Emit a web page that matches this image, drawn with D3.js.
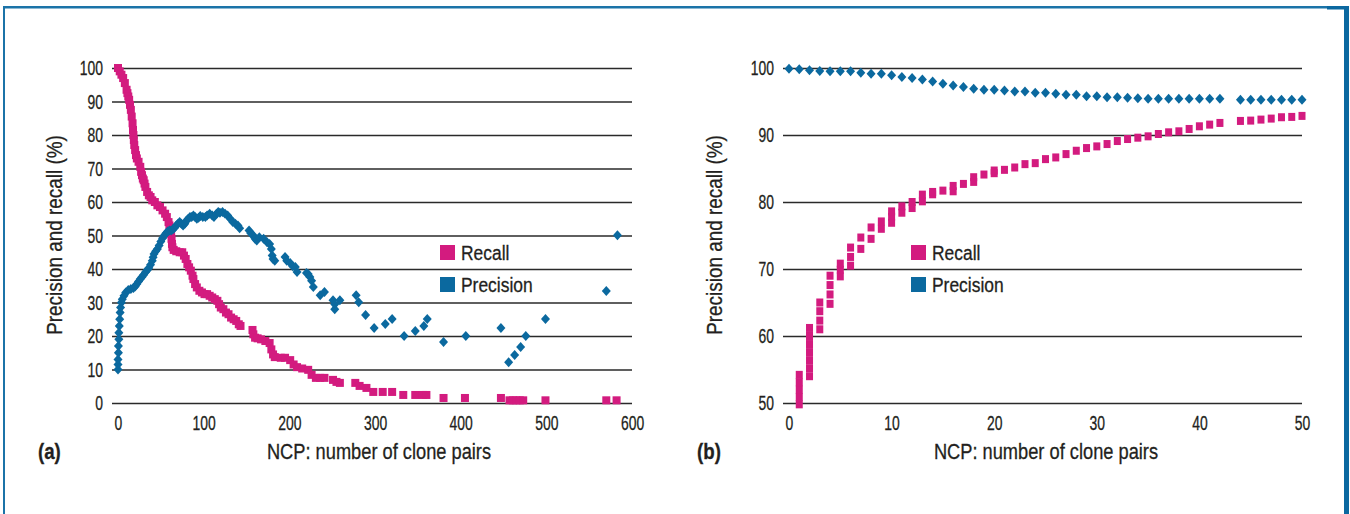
<!DOCTYPE html>
<html>
<head>
<meta charset="utf-8">
<script src="https://cdn.jsdelivr.net/npm/d3@7"></script>
<style>
  body { margin: 0; background: #fff; }
  svg text { font-family: "Liberation Sans", Arial, sans-serif; fill: #231f20; stroke: #231f20; stroke-width: 0.3; }
</style>
</head>
<body>
<script>
// chart (a): [NCP, value %]
var recallA = [[0,100],[2,99],[4,98],[6,97],[8,95.5],[10,93.5],[11,92.5],[12,91.5],[13,90.5],[14,89],[15,87.5],
  [16,85.5],[17,83.5],[17.5,81.5],[18,80],[18.5,78.5],[19,77],[20,75.5],[21,74],[22,73],[24,72],[26,70.5],[27,69],
  [28,68],[29,67],[30,66.5],[31,65.5],[32,64.5],[34,63],[36,62],[38,61.5],[40,60.5],[43,60],[46,59],[49,58.5],
  [52,57.5],[55,56.5],[57,55.5],[59,54],[60,53],[61,52],[62,50.5],[62.5,49],[63,47.5],[63.5,46.5],[65,45.7],
  [68,45.3],[72,45],[75,45],[77,44],[79,43],[81,41.5],[83,40.5],[85,39.5],[87,38],[88,37],[90,35.5],[92,34.5],
  [95,33.5],[98,33],[101,32.5],[104,32.5],[107,32],[110,31.5],[113,31],[116,30.5],[118,29.5],[120,28.5],[123,28],
  [126,27],[129,26.5],[132,25.5],[135,25],[138,24.5],[141,23.5],[143,23],
  [157,21.8],[158,20.5],[160,19.5],[163,19.3],[167,19],[172,18.5],[177,17.9],[179,16],[181,14.5],[183,13.7],
  [190,13.5],[195,13.5],[201,12.8],[205,11.5],[209,10.7],[215,10.3],[222,9.9],[226,8.4],[231,7.5],[236,7.5],
  [241,7.5],[251,6.9],[255,6.3],[259,6],[277,6],[282,5.1],[290,4.5],[298,3.3],[309,3.3],[320,3.3],[333,2.4],
  [347,2.4],[356,2.4],[360,2.4],[380,1.5],[405,1.5],[447,1.5],[457,0.8],[461,0.8],[465,0.8],[469,0.8],[473,0.8],
  [499,0.8],[570,0.8],[582,0.8]];

var precisionA = [[0,10],[0,11.5],[0,13],[0.5,15],[0.5,17],[1,19],[1,21],[1.5,23],[2,25],[2.5,27],[3,28.5],[4,30],
  [5,31],[7,32],[9,33],[12,33.7],[15,34],[18,34.3],[20,34.8],[22,35.5],[24,36.3],[26,37],[28,37.6],[30,38.3],
  [32,39],[34,39.6],[36,40.3],[38,41.3],[40,42.5],[41,43.5],[42,44.5],[44,45.3],[46,46],[48,47],[50,48.2],
  [52,49.2],[54,50],[56,50.7],[58,51.2],[60,51.5],[62,51.5],[64,51.8],[66,52.3],[68,53],[70,53.5],[72,54],
  [74,53.5],[76,53],[78,53.5],[80,54.5],[82,55],[84,55.5],[86,55.5],[88,56],[90,55.5],[92,55],[94,55.3],
  [96,55.8],[99,55.5],[102,55.5],[104,56],[107,56.5],[110,56],[112,55.5],[115,56.5],[117,57],[119,56.8],
  [122,57],[125,56.5],[128,56],[131,55],[134,54],[137,53.5],[140,53],[142,52.2],[153,51.5],[155,50.7],[158,50],
  [160,49],[162,48.5],[165,49.5],[170,49],[174,48],[177,47.5],[179,46],[180,44],[181,43],[183,42.5],[195,43.6],
  [197,42.5],[201,41.8],[204,40.8],[207,40.6],[209,39.1],[220,38.8],[222,38.5],[224,37.6],[226,36.5],[228,34.6],
  [236,32.2],[241,33.1],[251,30.7],[253,29.5],[253,28],[259,30.7],[278,32.2],[281,30.1],[289,26.3],[299,22.4],
  [312,23.6],[320,25.1],[334,20],[347,21.5],[357,23],[361,25.1],[380,18.2],[406,20],[447,22.4],[456,12.2],
  [463,14.3],[470,16.7],[476,20],[499,25.1],[570,33.4],[583,50.1]];

// chart (b): [NCP, value %]
var recallB = [[1,49.8],[1,50.9],[1,52],[1,53.1],[1,54.2],
  [2,54],[2,55.2],[2,56.4],[2,57.6],[2,58.8],[2,60],[2,61.2],
  [3,61],[3,62.3],[3,63.7],[3,65],
  [4,64.8],[4,66.2],[4,67.6],[4,69],
  [5,68.9],[5,69.9],[5,70.8],
  [6,70.5],[6,71.8],[6,73.2],
  [7,73],[7,74.7],[8,74.5],[8,76.2],[9,76],[9,77.1],[10,76.9],[10,77.8],[10,78.6],
  [11,78.4],[11,79.35],[12,79.1],[12,80],[13,80.1],[13,81.1],[14,81.15],[14,81.5],[15,81.7],
  [16,81.6],[16,82.4],[17,82.7],[18,83],[18,83.7],[19,84.1],[20,84.3],[20,84.7],
  [21,84.8],[22,85.15],[23,85.65],[24,85.8],[25,86.4],[26,86.65],[27,87.15],[28,87.65],[29,88.05],[30,88.3],
  [31,88.65],[32,89.1],[33,89.4],[34,89.6],[35,89.8],[36,90.15],[37,90.4],[38,90.55],[39,90.9],[40,91.3],
  [41,91.55],[42,91.8],[44,92.1],[45,92.15],[46,92.3],[47,92.45],[48,92.65],[49,92.7],[50,92.85]];

var precisionB = [[0,99.9],[1,99.8],[2,99.65],[3,99.55],[4,99.5],[5,99.5],[6,99.5],[7,99.3],[8,99.15],[9,99.15],
  [10,98.9],[11,98.65],[12,98.5],[13,98.3],[14,98],[15,97.65],[16,97.4],[17,97.15],[18,96.9],[19,96.75],[20,96.75],
  [21,96.65],[22,96.5],[23,96.5],[24,96.3],[25,96.3],[26,96.15],[27,96],[28,96],[29,95.8],[30,95.8],[31,95.65],
  [32,95.65],[33,95.55],[34,95.5],[35,95.4],[36,95.4],[37,95.4],[38,95.4],[39,95.4],[40,95.4],[41,95.4],[42,95.4],
  [44,95.25],[45,95.25],[46,95.25],[47,95.25],[48,95.25],[49,95.25],[50,95.25]];

var seriesNames = ["Recall", "Precision"];
var xTicksA = [0, 100, 200, 300, 400, 500, 600];
var yTicksA = [0, 10, 20, 30, 40, 50, 60, 70, 80, 90, 100];
var xTicksB = [0, 10, 20, 30, 40, 50];
var yTicksB = [50, 60, 70, 80, 90, 100];

var recallColor = "#d31b7f";
var precisionColor = "#0b699f";

var svg = d3.select("body").append("svg")
  .attr("width", 1350)
  .attr("height", 514);

// frame
svg.append("rect").attr("x", 3).attr("y", 6).attr("width", 1345).attr("height", 2.5).attr("fill", "#1b73a8");
svg.append("rect").attr("x", 1327).attr("y", 6).attr("width", 22).attr("height", 3.5).attr("fill", "#0b68a0");
svg.append("rect").attr("x", 3).attr("y", 6).attr("width", 2).attr("height", 508).attr("fill", "#1b73a8");
svg.append("rect").attr("x", 1344).attr("y", 6).attr("width", 5).attr("height", 508).attr("fill", "#0b68a0");

// condensed text: squeeze along x around its own x
function cond(sel, k) {
  sel.attr("transform", function(){
    var x = +d3.select(this).attr("x") || 0;
    return "translate(" + x + ",0) scale(" + k + ",1) translate(" + (-x) + ",0)";
  });
}

function drawPanel(opts) {
  var x = d3.scaleLinear().domain(opts.xDomain).range([opts.x0, opts.x1]);
  var y = d3.scaleLinear().domain(opts.yDomain).range([403, 68]);
  var g = svg.append("g");

  // gridlines + y labels
  var yAxis = g.append("g")
    .attr("transform", "translate(" + (opts.x0 - 6) + ",0)")
    .call(d3.axisLeft(y).tickValues(opts.yTicks).tickSize(-(opts.x1 - opts.x0 + 6)).tickPadding(9));
  yAxis.select(".domain").remove();
  yAxis.selectAll("line").attr("stroke", "#2a2a2a").attr("stroke-width", 1.6);
  yAxis.selectAll("text").attr("font-size", 20.5).attr("font-family", null).call(cond, 0.68);

  var xAxis = g.append("g")
    .attr("transform", "translate(0,403)")
    .call(d3.axisBottom(x).tickValues(opts.xTicks).tickSize(0).tickPadding(12));
  xAxis.select(".domain").remove();
  xAxis.selectAll("text").attr("font-size", 20.5).attr("font-family", null).call(cond, 0.68);

  // y title
  g.append("text")
    .attr("transform", "translate(" + opts.yTitleX + ",235) rotate(-90) scale(0.86,1)")
    .attr("text-anchor", "middle")
    .attr("font-size", 22)
    .text("Precision and recall (%)");

  g.append("text")
    .attr("x", opts.titleX)
    .attr("y", 459)
    .attr("text-anchor", "middle")
    .attr("font-size", 22)
    .text("NCP: number of clone pairs")
    .call(cond, 0.83);

  g.append("text")
    .attr("x", opts.tagX)
    .attr("y", 459)
    .attr("font-size", 22)
    .attr("font-weight", "bold")
    .text(opts.tag)
    .call(cond, 0.85);

  // recall squares
  var s = opts.sq;
  g.append("g").selectAll("rect")
    .data(opts.recall)
    .join("rect")
    .attr("x", function(d){ return x(d[0]) - s.w / 2; })
    .attr("y", function(d){ return y(d[1]) - s.h / 2; })
    .attr("width", s.w)
    .attr("height", s.h)
    .attr("fill", recallColor);

  // precision diamonds
  var dw = opts.dia.w / 2, dh = opts.dia.h / 2;
  g.append("g").selectAll("path")
    .data(opts.precision)
    .join("path")
    .attr("d", function(d){
      var cx = x(d[0]), cy = y(d[1]);
      return "M" + cx + "," + (cy - dh) + "L" + (cx + dw) + "," + cy + "L" + cx + "," + (cy + dh) + "L" + (cx - dw) + "," + cy + "Z";
    })
    .attr("fill", precisionColor);

  // legend
  var lg = g.append("g").attr("transform", "translate(" + opts.legX + ",245)");
  var colors = [recallColor, precisionColor];
  seriesNames.forEach(function(name, i){
    lg.append("rect").attr("x", 0).attr("y", i * 32).attr("width", 15).attr("height", 15).attr("fill", colors[i]);
    lg.append("text").attr("x", 21).attr("y", i * 32 + 15).attr("font-size", 21).text(name).call(cond, 0.83);
  });
}

drawPanel({
  xDomain: [0, 600], yDomain: [0, 100], x0: 118, x1: 632,
  xTicks: xTicksA, yTicks: yTicksA,
  recall: recallA, precision: precisionA,
  yTitleX: 62, titleX: 379, tag: "(a)", tagX: 38, legX: 440,
  sq: {w: 8, h: 8}, dia: {w: 9, h: 10}
});

drawPanel({
  xDomain: [0, 50], yDomain: [50, 100], x0: 789, x1: 1302,
  xTicks: xTicksB, yTicks: yTicksB,
  recall: recallB, precision: precisionB,
  yTitleX: 722, titleX: 1046, tag: "(b)", tagX: 697, legX: 911,
  sq: {w: 7, h: 8}, dia: {w: 9, h: 10}
});
</script>
</body>
</html>
